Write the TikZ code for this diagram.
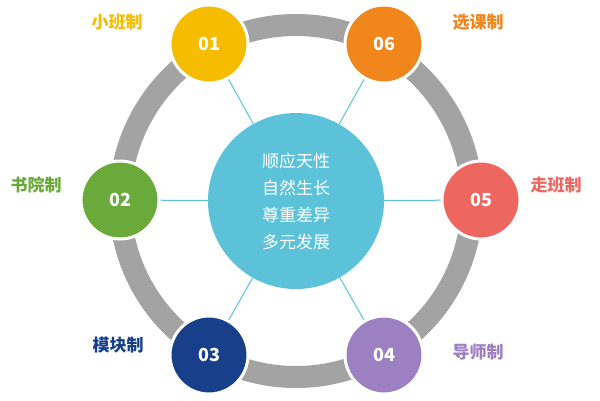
\documentclass[tikz,border=0pt]{standalone}
\usepackage{fontspec}
\newfontfamily\cjk{Noto Sans CJK SC}
\definecolor{ringgray}{HTML}{A3A3A3}
\definecolor{hubcyan}{HTML}{5BC2D9}
\definecolor{cyel}{HTML}{F5BC00}
\definecolor{corg}{HTML}{F0861C}
\definecolor{cred}{HTML}{EE6660}
\definecolor{cpur}{HTML}{9D80C1}
\definecolor{cnav}{HTML}{173F8A}
\definecolor{cgrn}{HTML}{6AAA3A}
\tikzset{
  ball/.style={circle, draw=white, line width=3pt, minimum size=78pt, inner sep=0pt,
    text=white, font=\cjk\bfseries\fontsize{18}{18}\selectfont},
  tag/.style={font=\cjk\bfseries\fontsize{17}{17}\selectfont},
  spoke/.style={hubcyan, line width=1pt}
}
\begin{document}
\begin{tikzpicture}[x=1pt,y=-1pt]
  \useasboundingbox (0,0) rectangle (600,400);
  \fill[white] (0,0) rectangle (600,400);
  \draw[ringgray, line width=22pt] (296,201) circle (176);
  \node[circle, fill=hubcyan, minimum size=176pt, inner sep=0pt] (hub) at (296,201) {};
  \node[ball, fill=cyel] (n1) at (209,44) {01};
  \node[ball, fill=corg] (n6) at (384,44) {06};
  \node[ball, fill=cgrn] (n2) at (120,200) {02};
  \node[ball, fill=cred] (n5) at (481,200) {05};
  \node[ball, fill=cnav] (n3) at (209,355) {03};
  \node[ball, fill=cpur] (n4) at (384,355) {04};
  \foreach \n in {n1,n2,n3,n4,n5,n6}
    \draw[spoke] (hub) -- (\n);
  \node[text=white, align=center, font=\cjk\fontsize{17}{27}\selectfont] (txt) at (296,201)
    {顺应天性\\自然生长\\尊重差异\\多元发展};
  \node[tag, text=cyel] (t1) at (117,22) {小班制};
  \node[tag, text=corg] (t6) at (478,22) {选课制};
  \node[tag, text=cgrn] (t2) at (36,185) {书院制};
  \node[tag, text=cred] (t5) at (556,185) {走班制};
  \node[tag, text=cnav] (t3) at (118,345) {模块制};
  \node[tag, text=cpur] (t4) at (478,352) {导师制};
\end{tikzpicture}
\end{document}
